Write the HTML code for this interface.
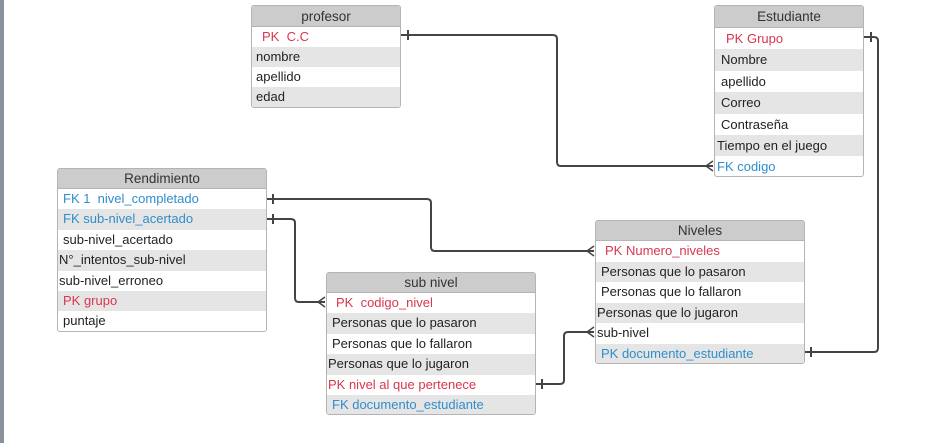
<!DOCTYPE html>
<html><head><meta charset="utf-8"><style>
body{margin:0;width:932px;height:443px;background:#fff;position:relative;overflow:hidden;font-family:"Liberation Sans",Arial,sans-serif;}
.bar{position:absolute;left:0;top:0;width:4px;height:443px;background:#8b919a;}
.t{position:absolute;border:1px solid #b4b4b4;border-radius:3px;overflow:hidden;background:#fff;box-sizing:border-box;}
.h{background:#cccccc;text-align:center;font-size:13.5px;color:#333;border-bottom:1px solid #b4b4b4;box-sizing:border-box;}
.r{font-size:13px;color:#222;white-space:nowrap;box-sizing:border-box;}
.r:nth-child(odd){background:#e5e5e5;}
.red{color:#d9364e}.blue{color:#2f8ecb}
svg{position:absolute;left:0;top:0;}
</style></head><body>
<div class="bar"></div>

<div class="t" style="left:251px;top:5px;width:150px;height:103px;">
<div class="h" style="height:21px;line-height:21px;">profesor</div>
<div class="r red" style="height:20px;line-height:20px;padding-left:10px;">PK&nbsp; C.C</div>
<div class="r" style="height:20px;line-height:20px;padding-left:4px;">nombre</div>
<div class="r" style="height:20px;line-height:20px;padding-left:4px;">apellido</div>
<div class="r" style="height:21px;line-height:20px;padding-left:4px;">edad</div>
</div>

<div class="t" style="left:714px;top:5px;width:150px;height:172px;">
<div class="h" style="height:22px;line-height:22px;">Estudiante</div>
<div class="r red" style="height:21.4px;line-height:21px;padding-left:11px;">PK Grupo</div>
<div class="r" style="height:21.4px;line-height:21px;padding-left:6px;">Nombre</div>
<div class="r" style="height:21.4px;line-height:21px;padding-left:6px;">apellido</div>
<div class="r" style="height:21.4px;line-height:21px;padding-left:6px;">Correo</div>
<div class="r" style="height:21.4px;line-height:21px;padding-left:6px;">Contraseña</div>
<div class="r" style="height:21.4px;line-height:21px;padding-left:2px;">Tiempo en el juego</div>
<div class="r blue" style="height:21.4px;line-height:21px;padding-left:2px;">FK codigo</div>
</div>

<div class="t" style="left:57px;top:168px;width:210px;height:164px;">
<div class="h" style="height:20px;line-height:20px;">Rendimiento</div>
<div class="r blue" style="height:20.4px;line-height:20px;padding-left:5px;">FK 1&nbsp; nivel_completado</div>
<div class="r blue" style="height:20.4px;line-height:20px;padding-left:5px;">FK sub-nivel_acertado</div>
<div class="r" style="height:20.4px;line-height:20px;padding-left:5px;">sub-nivel_acertado</div>
<div class="r" style="height:20.4px;line-height:20px;padding-left:1px;">N°_intentos_sub-nivel</div>
<div class="r" style="height:20.4px;line-height:20px;padding-left:1px;">sub-nivel_erroneo</div>
<div class="r red" style="height:20.4px;line-height:20px;padding-left:5px;">PK grupo</div>
<div class="r" style="height:20.4px;line-height:20px;padding-left:5px;">puntaje</div>
</div>

<div class="t" style="left:326px;top:272px;width:210px;height:143px;">
<div class="h" style="height:20px;line-height:20px;">sub nivel</div>
<div class="r red" style="height:20.4px;line-height:20px;padding-left:9px;">PK&nbsp; codigo_nivel</div>
<div class="r" style="height:20.4px;line-height:20px;padding-left:5px;">Personas que lo pasaron</div>
<div class="r" style="height:20.4px;line-height:20px;padding-left:5px;">Personas que lo fallaron</div>
<div class="r" style="height:20.4px;line-height:20px;padding-left:1px;">Personas que lo jugaron</div>
<div class="r red" style="height:20.4px;line-height:20px;padding-left:1px;">PK nivel al que pertenece</div>
<div class="r blue" style="height:20.4px;line-height:20px;padding-left:5px;">FK documento_estudiante</div>
</div>

<div class="t" style="left:595px;top:220px;width:210px;height:144px;">
<div class="h" style="height:20px;line-height:20px;">Niveles</div>
<div class="r red" style="height:20.5px;line-height:20px;padding-left:9px;">PK Numero_niveles</div>
<div class="r" style="height:20.5px;line-height:20px;padding-left:5px;">Personas que lo pasaron</div>
<div class="r" style="height:20.5px;line-height:20px;padding-left:5px;">Personas que lo fallaron</div>
<div class="r" style="height:20.5px;line-height:20px;padding-left:1px;">Personas que lo jugaron</div>
<div class="r" style="height:20.5px;line-height:20px;padding-left:1px;">sub-nivel</div>
<div class="r blue" style="height:20.5px;line-height:20px;padding-left:5px;">PK documento_estudiante</div>
</div>

<svg width="932" height="443" fill="none" stroke="#444" stroke-width="2">
<!-- profesor -> estudiante -->
<path d="M401 35 H553 Q557 35 557 39 V162 Q557 166 561 166 H713"/>
<path d="M408 30 V40"/>
<path d="M713 161 L706 166 L713 171" stroke-width="1.5"/>
<!-- estudiante -> niveles -->
<path d="M864 37 H874 Q878 37 878 41 V348 Q878 352 874 352 H805"/>
<path d="M871 32 V42"/>
<path d="M811 347 V357"/>
<!-- rendimiento FK1 -> niveles -->
<path d="M267 199 H427 Q431 199 431 203 V247 Q431 251 435 251 H594"/>
<path d="M273 194 V204"/>
<path d="M594 246 L587 251 L594 256" stroke-width="1.5"/>
<!-- rendimiento FK sub -> sub nivel -->
<path d="M267 219 H291 Q295 219 295 223 V298 Q295 302 299 302 H325"/>
<path d="M273 214 V224"/>
<path d="M325 297 L318 302 L325 307" stroke-width="1.5"/>
<!-- sub nivel -> niveles -->
<path d="M536 384 H560 Q564 384 564 380 V336 Q564 332 568 332 H594"/>
<path d="M542 379 V389"/>
<path d="M594 327 L587 332 L594 337" stroke-width="1.5"/>
</svg>
</body></html>
